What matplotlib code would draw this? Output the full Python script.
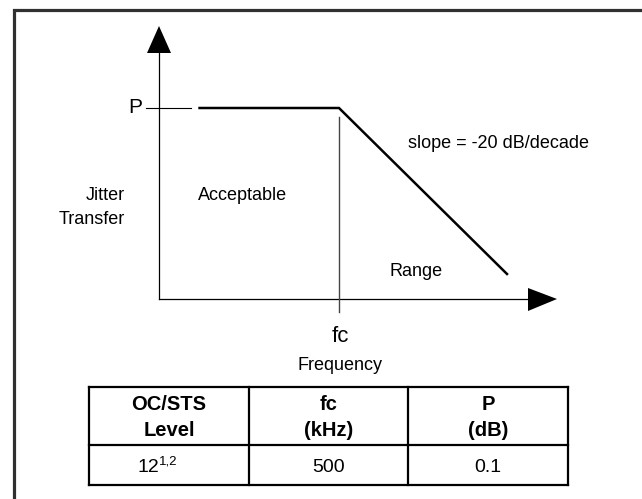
import matplotlib
matplotlib.use('Agg')
import matplotlib.pyplot as plt
from matplotlib.patches import Polygon

plt.rcParams['font.family'] = ['Liberation Sans', 'DejaVu Sans']

# jitter transfer mask: x in decades relative to fc, y in dB relative to P
curve_decades = [-0.83, 0.0, 1.0]
curve_db = [0.0, 0.0, -20.0]
slope_text = 'slope = -20 dB/decade'

# table
col_headers = ['OC/STS\nLevel', 'fc\n(kHz)', 'P\n(dB)']
row_level = '12'
row_level_sup = '1,2'
row_values = ['500', '0.1']

W, H = 642, 499
fig = plt.figure(figsize=(W / 100, H / 100), dpi=100)

# pixel-space axes for frame, labels, table
ax = fig.add_axes([0, 0, 1, 1])
ax.set_xlim(0, W)
ax.set_ylim(H, 0)
ax.axis('off')

# diagram axes: decades vs dB, placed over the plotting region
x0_px, x1_px, y0_px, y1_px = 159, 557, 299, 26
fc_px, p_px, px_dec, px_20db = 339, 108, 168, 166
dax = fig.add_axes([x0_px / W, 1 - y0_px / H, (x1_px - x0_px) / W, (y0_px - y1_px) / H])
dax.set_xlim((x0_px - fc_px) / px_dec, (x1_px - fc_px) / px_dec)
dax.set_ylim((p_px - y0_px) * 20 / px_20db, (p_px - y1_px) * 20 / px_20db)
dax.axis('off')
xmin, xmax = dax.get_xlim()
ymin, ymax = dax.get_ylim()

# outer frame (only top and left visible)
ax.plot([14, 14, W + 5], [H + 5, 10, 10], color='#303030', lw=2.3, solid_joinstyle='miter')

# axes lines
dax.plot([xmin, xmin], [ymin, (p_px - 53) * 20 / px_20db], color='black', lw=0.9, clip_on=False)
dax.plot([xmin, (528 - fc_px) / px_dec], [ymin, ymin], color='black', lw=0.9, clip_on=False)
ax.add_patch(Polygon([(147, 53), (171, 53), (159, 26)], closed=True, color='black', lw=0))
ax.add_patch(Polygon([(528, 288), (528, 311), (557, 299)], closed=True, color='black', lw=0))

# P tick and fc marker
dax.plot([(146 - fc_px) / px_dec, (191 - fc_px) / px_dec], [0, 0], color='black', lw=0.8, clip_on=False)
dax.plot([0, 0], [(p_px - 117) * 20 / px_20db, (p_px - 312) * 20 / px_20db],
         color='#444444', lw=1.0, clip_on=False)

# mask curve
dax.plot(curve_decades, curve_db, color='black', lw=1.8, solid_joinstyle='miter', clip_on=False)

# labels
ax.text(135, 107, 'P', fontsize=15, ha='center', va='center')
ax.text(125, 195, 'Jitter', fontsize=13, ha='right', va='center')
ax.text(125, 219, 'Transfer', fontsize=13, ha='right', va='center')
ax.text(243, 196, 'Acceptable', fontsize=13, ha='center', va='center')
ax.text(498, 143, slope_text, fontsize=13, ha='center', va='center')
ax.text(416, 272, 'Range', fontsize=13, ha='center', va='center')
ax.text(340, 337, 'fc', fontsize=16, ha='center', va='center')
ax.text(340, 366, 'Frequency', fontsize=13, ha='center', va='center')

# table
tx = [89, 249, 408, 568]
ty = [387, 445, 485]
for y in ty:
    ax.plot([tx[0], tx[-1]], [y, y], color='black', lw=1.6, solid_capstyle='projecting')
for x in tx:
    ax.plot([x, x], [ty[0], ty[-1]], color='black', lw=1.6, solid_capstyle='projecting')
for i, hdr in enumerate(col_headers):
    cx = (tx[i] + tx[i + 1]) / 2
    top, bot = hdr.split('\n')
    ax.text(cx, 405, top, fontsize=14.5, fontweight='bold', ha='center', va='center')
    ax.text(cx, 430, bot, fontsize=14.5, fontweight='bold', ha='center', va='center')
ax.text(159, 467, row_level, fontsize=14, ha='right', va='center')
ax.text(159, 455, row_level_sup, fontsize=9.5, ha='left', va='top')
for i, v in enumerate(row_values):
    cx = (tx[i + 1] + tx[i + 2]) / 2
    ax.text(cx, 467, v, fontsize=14, ha='center', va='center')

fig.savefig('out.png', dpi=100, facecolor='white')
